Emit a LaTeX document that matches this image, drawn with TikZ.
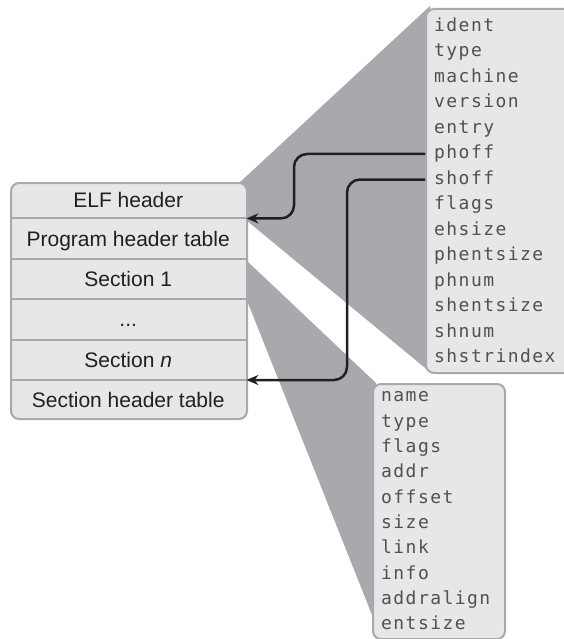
\documentclass[tikz,border=0pt]{standalone}
\usepackage{fontspec}
\setmainfont{Liberation Sans}
\newfontfamily\fieldfont[LetterSpace=8]{DejaVu Sans Mono}
\usetikzlibrary{arrows.meta,positioning}
\definecolor{ElfInk}{HTML}{231F20}
\definecolor{ElfGray}{HTML}{A7A9AC}
\definecolor{ElfFill}{HTML}{E6E7E8}

\begin{document}
\begin{tikzpicture}[x=1pt,y=-1pt,node distance=0pt]
    \tikzset{
      tablebox/.style={draw=ElfGray,fill=ElfFill,line width=2pt,rounded corners=8pt,inner sep=0pt,minimum width=236pt,minimum height=236pt,anchor=north west},
      fieldbox/.style={draw=ElfGray,fill=ElfFill,line width=2pt,rounded corners=8pt,inner sep=0pt,anchor=north west},
      rowcell/.style={inner sep=0pt,minimum width=236pt,minimum height=40pt,text height=15pt,text depth=0pt,font=\fontsize{21}{25}\selectfont,text=ElfInk},
      field/.style={anchor=west,inner xsep=9pt,inner ysep=0pt,text height=9.8pt,text depth=0pt,font=\fieldfont\fontsize{18}{20}\selectfont,text=ElfInk!78},
      rowline/.style={draw=ElfGray,line width=2pt},
      link/.style={draw=ElfInk,line width=2.5pt,rounded corners=13pt,-{Stealth[length=12pt,width=10pt]}}
    }
    \useasboundingbox (0,0) rectangle (564,639);
    \clip (0,0) rectangle (564,639);
    \fill[ElfGray] (238,184) -- (430,6) -- (430,372) -- (246,220) -- cycle;
    \fill[ElfGray] (246,260) -- (376,383) -- (376,625) -- (246,298) -- cycle;
    \node[tablebox] (tbl) at (10,182) {};
    \node[rowcell,minimum height=36pt,anchor=north west] (elf) at (10,182) {ELF header};
    \node[rowcell,below=of elf] (prog) {Program header table};
    \node[rowcell,below=of prog] (sec1) {Section 1};
    \node[rowcell,below=of sec1] (dots) {...};
    \node[rowcell,below=of dots] (secn) {Section \textit{n}};
    \node[rowcell,below=of secn] (shtab) {Section header table};
    \foreach \r in {elf,prog,sec1,dots,secn}
      \draw[rowline] (\r.south west) -- (\r.south east);
    \node[fieldbox,minimum width=180pt,minimum height=364pt] (ehdr) at (425,8) {};
    \foreach \f [count=\i] in {ident,type,machine,version,entry,phoff,shoff,flags,ehsize,phentsize,phnum,shentsize,shnum,shstrindex}
      \node[field] (eh\i) at (425,{26.5+25.5*(\i-1)}) {\f};
    \node[fieldbox,minimum width=132pt,minimum height=255pt] (shdr) at (372,383) {};
    \foreach \f [count=\i] in {name,type,flags,addr,offset,size,link,info,addralign,entsize}
      \node[field] (sh\i) at (372,{397+25.3*(\i-1)}) {\f};
    \coordinate (pbend) at (294,0);
    \coordinate (sbend) at (347,0);
    \draw[link] (eh6.west) -| (pbend |- prog.north east) -- (prog.north east);
    \draw[link] (eh7.west) -| (sbend |- shtab.north east) -- (shtab.north east);
  \end{tikzpicture}
\end{document}
